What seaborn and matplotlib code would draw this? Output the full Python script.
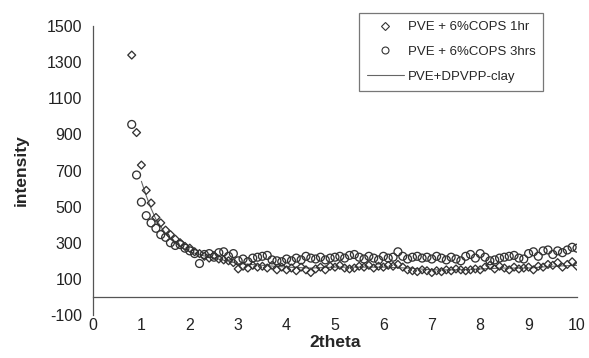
import numpy as np
import pandas as pd
import matplotlib
matplotlib.use("Agg")
import matplotlib.pyplot as plt
import seaborn as sns
from matplotlib.lines import Line2D

# ---- data ----
two_theta = [0.8, 0.9, 1.0, 1.1, 1.2, 1.3, 1.4, 1.5, 1.6, 1.7, 1.8, 1.9,
             2.0, 2.1, 2.2, 2.3, 2.4, 2.5, 2.6, 2.7, 2.8, 2.9,
             3.0, 3.1, 3.2, 3.3, 3.4, 3.5, 3.6, 3.7, 3.8, 3.9,
             4.0, 4.1, 4.2, 4.3, 4.4, 4.5, 4.6, 4.7, 4.8, 4.9,
             5.0, 5.1, 5.2, 5.3, 5.4, 5.5, 5.6, 5.7, 5.8, 5.9,
             6.0, 6.1, 6.2, 6.3, 6.4, 6.5, 6.6, 6.7, 6.8, 6.9,
             7.0, 7.1, 7.2, 7.3, 7.4, 7.5, 7.6, 7.7, 7.8, 7.9,
             8.0, 8.1, 8.2, 8.3, 8.4, 8.5, 8.6, 8.7, 8.8, 8.9,
             9.0, 9.1, 9.2, 9.3, 9.4, 9.5, 9.6, 9.7, 9.8, 9.9, 10.0]

cops_1hr = [1339, 910, 730, 590, 520, 440, 410, 370, 345, 320, 300, 280,
            270, 250, 240, 225, 215, 230, 210, 205, 200, 190,
            155, 170, 160, 175, 165, 170, 160, 175, 150, 165,
            150, 160, 145, 165, 150, 135, 155, 165, 150, 170,
            165, 175, 160, 155, 160, 170, 165, 175, 160, 170,
            165, 175, 170, 180, 165, 150, 145, 140, 150, 145,
            135, 145, 140, 150, 145, 155, 150, 145, 150, 155,
            150, 165, 175, 155, 170, 160, 150, 165, 155, 160,
            165, 150, 170, 165, 180, 175, 190, 165, 180, 195, 170]

cops_3hrs = [955, 675, 525, 450, 410, 380, 345, 330, 300, 285, 290, 270,
             255, 240, 185, 235, 240, 220, 245, 250, 225, 240,
             200, 210, 195, 215, 220, 225, 230, 205, 200, 195,
             210, 200, 215, 205, 225, 215, 210, 220, 205, 215,
             220, 225, 215, 230, 235, 220, 210, 225, 215, 205,
             225, 215, 220, 250, 225, 210, 220, 225, 215, 220,
             210, 225, 215, 205, 220, 210, 200, 225, 235, 215,
             240, 220, 200, 205, 215, 220, 225, 230, 215, 210,
             240, 250, 225, 255, 260, 235, 255, 245, 260, 275, 270]

clay_theta = [1.0, 1.1, 1.2, 1.3, 1.4, 1.5, 1.6, 1.7, 1.8, 1.9, 2.0,
              2.25, 2.5, 2.75, 3.0, 3.5, 4.0, 4.5, 5.0, 5.5, 6.0,
              6.5, 7.0, 7.5, 8.0, 8.5, 9.0, 9.5, 10.0]
clay = [640, 560, 490, 430, 390, 350, 320, 300, 280, 265, 250,
        230, 215, 200, 185, 175, 165, 160, 165, 165, 165,
        160, 150, 150, 155, 160, 160, 170, 175]

labels = ["PVE + 6%COPS 1hr", "PVE + 6%COPS 3hrs", "PVE+DPVPP-clay"]
y_ticks = [-100, 100, 300, 500, 700, 900, 1100, 1300, 1500]
x_ticks = [0, 1, 2, 3, 4, 5, 6, 7, 8, 9, 10]

df1 = pd.DataFrame({"x": two_theta, "y": cops_1hr})
df3 = pd.DataFrame({"x": two_theta, "y": cops_3hrs})
dfc = pd.DataFrame({"x": clay_theta, "y": clay})

# ---- style ----
sns.set_theme(style="white")
plt.rcParams["font.family"] = ["Liberation Sans", "DejaVu Sans"]

fig = plt.figure(figsize=(5.89, 3.58), dpi=100)
ax = fig.add_axes([93 / 589, 1 - 315 / 358, (577 - 93) / 589, (315 - 26) / 358])

edge = "#333333"
sns.lineplot(data=dfc, x="x", y="y", ax=ax, color="#666666", linewidth=0.8,
             zorder=1)
sns.scatterplot(data=df3, x="x", y="y", ax=ax, marker="o", s=32,
                facecolor="none", edgecolor=edge, linewidth=0.95, zorder=2)
sns.scatterplot(data=df1, x="x", y="y", ax=ax, marker="D", s=16,
                facecolor="none", edgecolor=edge, linewidth=0.95, zorder=3)

ax.set_xlim(0, 10)
ax.set_ylim(-100, 1500)
ax.set_xticks(x_ticks)
ax.set_yticks(y_ticks)
ax.set_xticklabels([str(t) for t in x_ticks])
ax.set_yticklabels([str(t) for t in y_ticks])

ax.spines["top"].set_visible(False)
ax.spines["right"].set_visible(False)
ax.spines["bottom"].set_position(("data", 0))
for s in ("left", "bottom"):
    ax.spines[s].set_color("#555555")
    ax.spines[s].set_linewidth(0.9)

ax.tick_params(axis="x", direction="out", length=4, width=0.9, color="#555555",
               pad=11.5, labelsize=11.5, labelcolor="#222222")
ax.tick_params(axis="y", direction="out", length=4, width=0.9, color="#555555",
               pad=4, labelsize=11.5, labelcolor="#222222")

ax.set_xlabel("2theta", fontsize=12.5, fontweight="bold")
ax.set_ylabel("intensity", fontsize=12.5, fontweight="bold", labelpad=13)
ax.xaxis.set_label_coords(0.5, -0.07)

handles = [
    Line2D([], [], marker="D", linestyle="none", markersize=3.8,
           markerfacecolor="none", markeredgecolor=edge, markeredgewidth=0.8),
    Line2D([], [], marker="o", linestyle="none", markersize=5,
           markerfacecolor="none", markeredgecolor=edge, markeredgewidth=0.8),
    Line2D([], [], color="#666666", linewidth=0.8),
]
leg = ax.legend(handles, labels, loc="upper left",
                bbox_to_anchor=(359 / 589, 1 - 13 / 358),
                bbox_transform=fig.transFigure, borderaxespad=0,
                fontsize=9.5, frameon=True, fancybox=False, shadow=False,
                handlelength=2.8, handletextpad=0.3, labelspacing=0.95,
                borderpad=0.6)
leg.get_frame().set_edgecolor("#555555")
leg.get_frame().set_linewidth(0.9)

fig.savefig("out.png", dpi=100)
